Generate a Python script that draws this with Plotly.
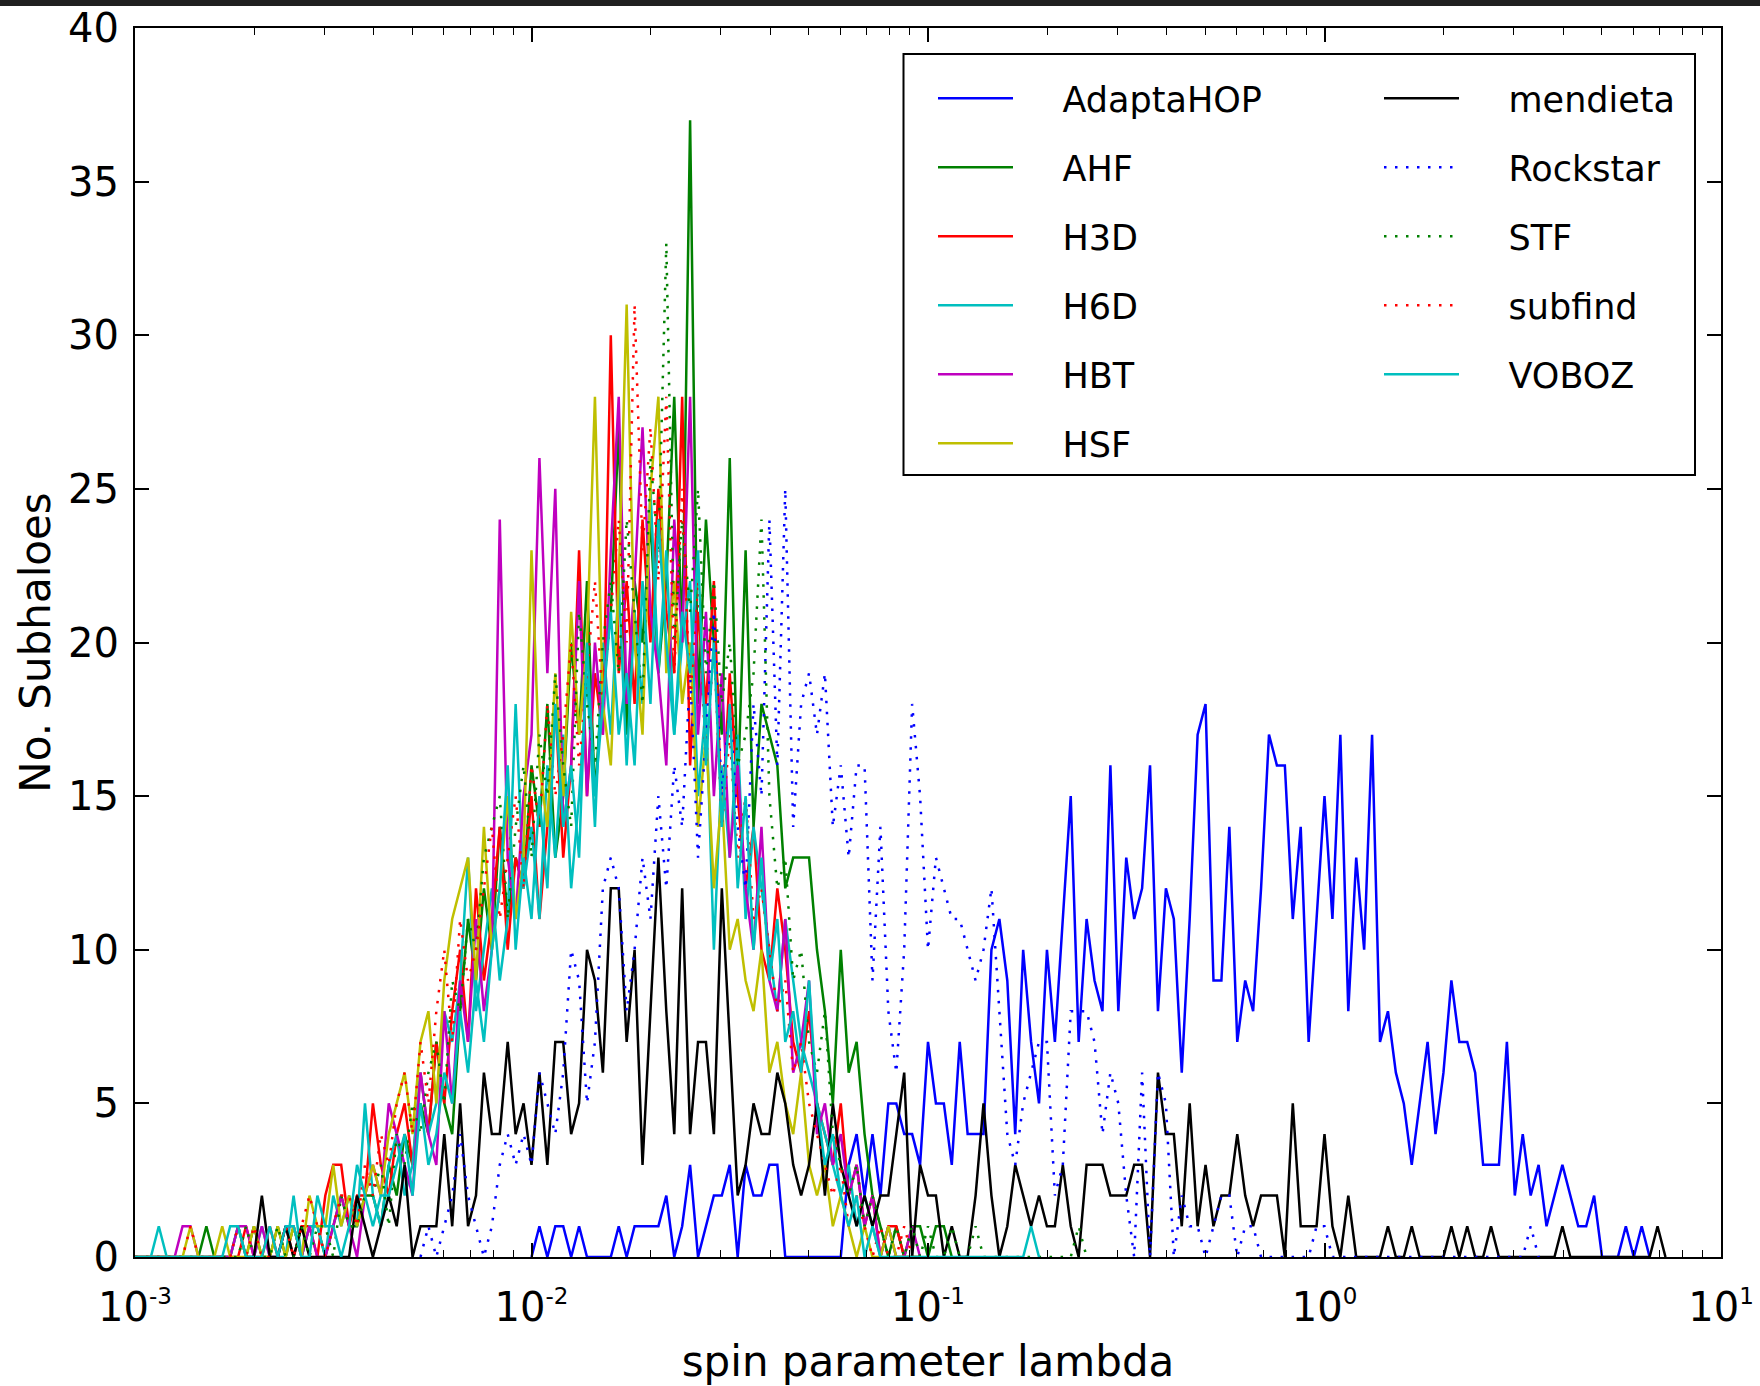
import numpy as np
import plotly.graph_objects as go

# log-spaced histogram bins of the spin parameter (200 bins, 1e-3 .. 1e1)
BIN_EDGES = np.logspace(-3, 1, 201)
BIN_X = BIN_EDGES[:-1]

AHF_START = 0
AHF = [0,0,0,0,0,0,0,0,0,1, 0,0,0,1,0,1,0,0,1,0, 1,0,1,1,0,1,2,1,1,2,
       2,1,3,2,4,3,5,4,7,5, 4,8,11,9,12,10,14,11,13,12, 16,14,18,13,15,20,17,22,15,19,
       21,27,17,22,20,24,19,22,28,20, 37,18,24,20,17,26,15,23,14,18, 17,16,12,13,13,13,10,8,5,10,
       6,7,4,2,1,0,1,0,1,1, 0,1,1,0]

H3D_START = 0
H3D = [0,0,0,0,0,0,0,0,0,0, 0,0,0,0,1,0,0,1,0,1, 0,1,1,0,2,3,3,1,2,2,
       5,3,2,4,5,3,6,4,7,5, 8,10,7,12,9,11,14,10,13,12, 15,11,14,18,13,16,23,15,19,17,
       30,19,22,18,24,20,25,21,19,28, 16,21,18,22,14,19,15,12,14,10, 9,12,10,7,6,8,5,4,3,5,
       2,3,1,2,0,1,1,0,0,0]

H6D_START = 0
H6D = [0,0,0,1,0,0,0,0,0,0, 0,0,0,1,0,0,1,0,0,0, 2,0,1,1,0,2,1,2,1,5,
       2,1,3,4,2,3,6,4,5,8, 7,9,13,8,10,12,9,11,18,12, 14,11,16,13,17,12,15,19,14,20,
       17,22,16,21,18,25,19,23,17,20, 22,15,18,10,16,13,17,11,14,12, 10,8,11,9,7,6,5,4,3,2,
       3,1,2,1,0,1,0,0,0,0]

HBT_START = 0
HBT = [0,0,0,0,0,0,1,1,0,0, 0,0,0,1,1,0,1,0,0,1, 1,0,1,0,0,1,2,1,0,2,
       3,2,5,4,3,2,6,4,3,8, 5,9,7,11,8,10,24,13,11,15, 17,26,19,25,14,16,22,15,20,17,
       23,28,18,22,27,21,19,16,24,20, 28,17,21,15,19,13,16,12,10,14, 9,8,11,6,7,9,4,5,3,4,
       2,3,1,2,0,1,0,0,1,0]

HSF_START = 0
HSF = [0,0,0,0,0,0,0,1,0,0, 0,1,0,0,0,1,0,0,1,0, 1,0,2,1,1,3,1,2,1,2,
       3,2,4,5,6,4,7,8,5,9, 11,12,13,9,14,10,12,15,11,13, 23,16,14,19,15,21,17,20,28,18,
       16,22,31,20,17,25,28,19,22,18, 20,14,17,12,15,10,11,9,8,10, 6,7,5,4,6,3,2,3,1,2,
       1,0,1,0,0,1,0,0,0,0]

STF_START = 0
STF = [0,0,0,0,0,0,0,0,0,0, 0,0,0,0,1,0,0,0,1,0, 0,1,0,1,1,0,2,1,1,2,
       2,3,1,4,3,5,4,6,7,5, 9,8,11,10,13,14,15,11,14,16, 13,17,15,19,16,14,21,18,16,20,
       22,19,24,21,18,26,23,33,20,24, 21,25,19,22,18,20,16,17,19,24, 15,12,13,9,10,7,6,8,4,3,
       2,3,1,2,1,0,1,0,1,0, 1,0,0,1,0,0,1,0,0,0, 0,0,0,0,0,0,0,0,0,1, 0]

SUBFIND_START = 0
SUBFIND = [0,0,0,0,0,0,0,1,0,0, 0,0,0,1,0,1,0,0,0,1, 0,1,2,1,0,1,2,2,1,3,
           2,4,3,5,6,4,7,5,8,10, 7,11,9,10,12,14,11,13,15,12, 16,14,18,15,17,20,16,19,22,18,
           21,24,20,31,23,27,22,28,19,25, 18,22,16,20,14,17,13,15,11,12, 10,8,9,6,7,5,4,3,2,3,
           1,2,1,0,1,0,0,1,0,0]

VOBOZ_START = 0
VOBOZ = [0,0,0,0,0,0,0,0,0,0, 0,0,1,1,0,0,0,1,0,1, 1,0,0,2,1,1,0,1,3,2,
         1,2,2,3,4,2,5,3,4,6, 5,8,6,9,7,10,12,16,10,13, 11,15,12,18,14,16,13,20,15,18,
         21,17,19,16,22,18,24,20,17,21, 19,23,16,20,14,18,12,15,10,13, 9,11,7,8,6,9,5,3,4,2,
         1,2,0,1,0,0,0,0,0,0, 0,0,0,0,0,0,0,0,0,0, 0,0,0,1,0]

ADAPTAHOP_START = 50
ADAPTAHOP = [0,1,0,1,1,0,1,0,0,0, 0,1,0,1,1,1,1,2,0,1, 3,0,1,2,2,3,0,3,2,2,
             3,3,0,0,0,0,0,0,0,0, 3,4,2,4,2,5,5,4,4,3, 7,5,5,3,7,4,4,4,10,11,
             9,4,10,7,5,10,7,11,15,7, 11,9,8,16,8,13,11,12,16,8, 12,11,6,11,17,18,9,9,14,7,
             9,8,12,17,16,16,11,14,7,11, 15,11,17,8,13,10,17,7,8,6, 5,3,5,7,4,6,9,7,7,6,
             3,3,3,7,2,4,2,3,1,2, 3,2,1,1,2,0,0,0,1,0, 1,0]

MENDIETA_START = 14
MENDIETA = [0,0,2,0,0,1, 0,1,0,0,0,0,0,0,2,1, 0,1,2,1,3,0,1,1,1,4, 1,5,1,2,6,4,4,7,4,5,
            3,6,3,7,7,4,5,10,9,6, 12,12,7,10,3,8,13,8,4,12, 4,7,7,4,12,7,2,3,5,4,
            4,6,5,3,2,3,5,2,5,3, 2,1,2,1,2,2,4,6,0,3, 2,2,0,1,0,0,2,5,2,0,
            1,3,2,1,2,1,1,3,1,0, 3,3,3,2,2,2,3,3,0,6, 4,4,1,5,1,3,1,2,2,4,
            2,1,2,2,2,0,5,1,1,1, 4,1,0,2,0,0,0,0,1,0, 0,1,0,0,0,0,1,0,1,0,
            0,1,0,0,0,0,0,0,0,0, 1,0,0,0,0,0,0,0,0,0, 0,0,1,0]

ROCKSTAR_START = 36
ROCKSTAR = [0,1,0,1,2,4,2,1,0,1,3,4,3,4, 3,6,5,4,6,10,9,5,7,12, 13,12,8,10,13,11,15,12,16,14,
            19,13,17,21,15,18,14,12,18,15, 24,16,25,14,18,19,17,19,14,16, 13,16,16,9,14,8,6,10,18,15,
            10,13,12,11,11,10,9,10,12,8, 4,3,5,6,7,7,2,3,8,8, 8,7,4,6,5,2,0,6,0,6,
            5,0,2,1,1,0,1,2,2,0, 1,1,0,0,0,0,0,0,0,1, 1,0,0,0,0,0,0,0,0,0,
            0,0,0,0,0,0,0,0,0,0, 0,0,0,0,0,0,1,0]

DOT = "2.5px,8.5px"
SERIES = [
    ("AdaptaHOP", ADAPTAHOP_START, ADAPTAHOP, "#0000ff", "solid", "legend"),
    ("AHF", AHF_START, AHF, "#008000", "solid", "legend"),
    ("H3D", H3D_START, H3D, "#ff0000", "solid", "legend"),
    ("H6D", H6D_START, H6D, "#00bfbf", "solid", "legend"),
    ("HBT", HBT_START, HBT, "#bf00bf", "solid", "legend"),
    ("HSF", HSF_START, HSF, "#bfbf00", "solid", "legend"),
    ("mendieta", MENDIETA_START, MENDIETA, "#000000", "solid", "legend2"),
    ("Rockstar", ROCKSTAR_START, ROCKSTAR, "#0000ff", DOT, "legend2"),
    ("STF", STF_START, STF, "#008000", DOT, "legend2"),
    ("subfind", SUBFIND_START, SUBFIND, "#ff0000", DOT, "legend2"),
    ("VOBOZ", VOBOZ_START, VOBOZ, "#00bfbf", "solid", "legend2"),
]

PAD = "\u00a0" * 4  # gap between legend sample line and its label

fig = go.Figure()
for name, start, vals, color, dash, leg in SERIES:
    fig.add_trace(go.Scatter(
        x=BIN_X[start:start + len(vals)], y=vals, mode="lines", name=PAD + name,
        line=dict(color=color, width=2.5, dash=dash),
        legend=leg, legendgroup=name, showlegend=True,
    ))

FONT = "DejaVu Sans, Verdana, sans-serif"
L, R, T, B = 135, 39, 28, 129
W, H = 1760, 1386
PW, PH = W - L - R, H - T - B

def px_x(x):
    return (x - L) / PW

def px_y(y):
    return 1 - (y - T) / PH

minor_vals = [m * 10.0 ** e for e in range(-3, 1) for m in range(2, 10)]
SUP = "<sup><span style='font-size:23px'>{}</span></sup>"
xt_text = ["10" + SUP.format(e) for e in ["-3", "-2", "-1", "0", "1"]]

LEG = dict(
    yanchor="top", xanchor="left",
    bgcolor="rgba(0,0,0,0)", borderwidth=0,
    font=dict(family=FONT, size=35, color="black"),
    traceorder="grouped", tracegroupgap=20.5, itemwidth=75,
)

fig.update_layout(
    width=W, height=H,
    margin=dict(l=L, r=R, t=T, b=B, autoexpand=False),
    paper_bgcolor="white", plot_bgcolor="white",
    font=dict(family=FONT, size=40, color="black"),
    xaxis=dict(
        type="log", range=[-3, 1], automargin=False,
        tickmode="array",
        tickvals=[1e-3, 1e-2, 1e-1, 1e0, 1e1],
        ticktext=xt_text,
        tickfont=dict(size=40),
        ticks="inside", ticklen=14, tickwidth=1.5, tickcolor="black",
        minor=dict(tickmode="array", tickvals=minor_vals, ticks="inside", ticklen=7,
                   tickwidth=1.2, tickcolor="black", showgrid=False),
        showline=True, linecolor="black", linewidth=2, mirror="allticks",
        showgrid=False, zeroline=False,
        ticklabelstandoff=14,
        title=dict(text="spin parameter lambda", standoff=24, font=dict(size=42)),
    ),
    yaxis=dict(
        range=[0, 40], dtick=5, automargin=False,
        tickfont=dict(size=40),
        ticks="inside", ticklen=14, tickwidth=1.5, tickcolor="black",
        showline=True, linecolor="black", linewidth=2, mirror="allticks",
        showgrid=False, zeroline=True, zerolinecolor="black", zerolinewidth=3,
        ticklabelstandoff=6,
        title=dict(text="No. Subhaloes", standoff=4, font=dict(size=42)),
    ),
    legend=dict(LEG, x=px_x(933), y=px_y(69)),
    legend2=dict(LEG, x=px_x(1379), y=px_y(69)),
    shapes=[
        dict(type="rect", xref="paper", yref="paper",
             x0=px_x(903.5), x1=px_x(1695), y0=px_y(475), y1=px_y(54),
             fillcolor="white", line=dict(color="black", width=2), layer="above"),
        dict(type="rect", xref="paper", yref="paper",
             x0=px_x(0), x1=px_x(W), y0=px_y(6), y1=px_y(0),
             fillcolor="#202020", line=dict(width=0), layer="above"),
    ],
)

fig.write_html("out.html")
